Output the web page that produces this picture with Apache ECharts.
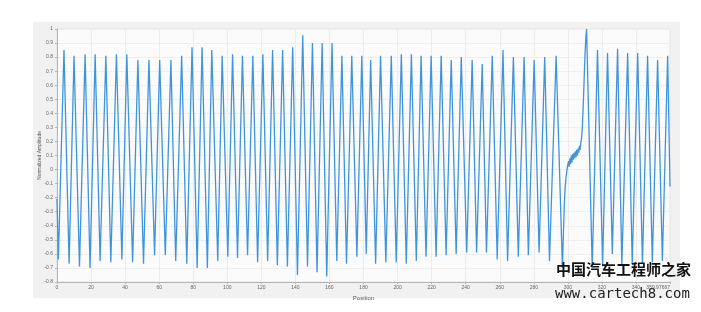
<!DOCTYPE html>
<html>
<head>
<meta charset="utf-8">
<script src="https://cdn.jsdelivr.net/npm/echarts@6/dist/echarts.min.js"></script>
<style>
html,body{margin:0;padding:0;background:#fff;}
#chart{width:701px;height:312px;}
</style>
</head>
<body>
<div id="chart"></div>
<script>
// Position values (x)
const positions = [
  0, 0.8, 4.1, 7.1, 10.0, 13.2, 16.5, 19.4, 22.4, 25.3, 28.7, 31.6, 34.9, 38.1, 41.0, 44.4, 47.5, 50.8, 54.0, 57.3,
  60.3, 63.6, 66.9, 69.7, 73.2, 76.2, 79.3, 82.3, 85.2, 88.3, 90.9, 94.4, 97.0, 100.3, 103.1, 106.0, 108.9, 111.9, 115.0, 117.8,
  120.9, 123.7, 126.6, 129.4, 132.5, 135.3, 138.4, 141.2, 144.3, 147.1, 150.0, 152.7, 155.7, 158.4, 161.5, 164.3, 167.3, 170.0, 173.1, 176.1,
  179.0, 181.6, 184.2, 187.1, 190.0, 193.1, 196.3, 199.2, 202.2, 205.1, 208.1, 211.0, 213.8, 216.7, 219.7, 222.6, 225.6, 228.5, 231.5, 234.4,
  237.4, 240.6, 243.8, 246.4, 249.7, 252.2, 255.6, 258.5, 261.9, 264.6, 268.0, 270.9, 274.3, 276.8, 280.2, 283.1, 286.4, 289.2, 293.1, 296.8,
  297.4, 297.9, 298.4, 298.9, 299.4, 299.9, 300.4, 300.8, 301.2, 301.6, 302.0, 302.4, 302.8, 303.2, 303.6, 304.0, 304.4, 304.8, 305.2, 305.6,
  306.0, 306.4, 306.8, 307.2, 307.6, 308.0, 308.5, 309.0, 309.5, 310.0, 310.6, 311.0,
  314.3, 317.4, 320.4, 323.3, 326.1, 329.2, 331.7, 335.1, 337.8, 341.0, 343.8, 346.8, 349.6, 352.7, 355.5, 358.6, 359.97667
];
// Normalized amplitude values
const amplitudes = [
  -0.21, -0.64, 0.85, -0.67, 0.81, -0.69, 0.82, -0.70, 0.82, -0.65, 0.81, -0.66, 0.82, -0.64, 0.82, -0.66, 0.78, -0.67, 0.78, -0.61,
  0.78, -0.61, 0.78, -0.65, 0.81, -0.67, 0.87, -0.70, 0.87, -0.70, 0.85, -0.65, 0.81, -0.62, 0.82, -0.63, 0.81, -0.61, 0.81, -0.66,
  0.82, -0.65, 0.85, -0.68, 0.85, -0.69, 0.87, -0.75, 0.955, -0.69, 0.90, -0.73, 0.90, -0.76, 0.90, -0.65, 0.81, -0.67, 0.81, -0.62,
  0.81, -0.60, 0.78, -0.67, 0.81, -0.66, 0.81, -0.66, 0.82, -0.67, 0.82, -0.65, 0.81, -0.62, 0.81, -0.62, 0.81, -0.61, 0.78, -0.60,
  0.80, -0.59, 0.78, -0.59, 0.75, -0.59, 0.81, -0.64, 0.85, -0.65, 0.80, -0.62, 0.80, -0.61, 0.78, -0.59, 0.80, -0.65, 0.81, -0.70,
  -0.45, -0.25, -0.13, -0.06, -0.01, 0.03, 0.06, 0.02, 0.08, 0.04, 0.10, 0.05, 0.11, 0.07, 0.12, 0.08, 0.13, 0.09, 0.14, 0.10,
  0.15, 0.12, 0.17, 0.14, 0.19, 0.22, 0.30, 0.45, 0.62, 0.80, 0.95, 1.0,
  -0.70, 0.85, -0.68, 0.83, -0.60, 0.86, -0.68, 0.83, -0.67, 0.83, -0.67, 0.81, -0.66, 0.78, -0.65, 0.81, -0.12
];
const xTitle = 'Position';
const yTitle = 'Normalized Amplitude';
const watermarkCn = '中国汽车工程师之家';
const watermarkUrl = 'www.cartech8.com';

const seriesData = positions.map((p, i) => [p, amplitudes[i]]);

const chart = echarts.init(document.getElementById('chart'), null, {renderer: 'canvas'});
chart.setOption({
  animation: false,
  backgroundColor: '#ffffff',
  graphic: [
    {type: 'rect', z: -10, silent: true, shape: {x: 33, y: 22, width: 647, height: 276}, style: {fill: '#f1f1f1'}},
    {type: 'text', z: 100, left: 556, top: 262, style: {text: watermarkCn, font: 'bold 15px "Noto Sans CJK SC"', fill: '#111'}},
    {type: 'text', z: 100, left: 555, top: 287, style: {text: watermarkUrl, font: '14px "DejaVu Sans Mono"', fill: '#222'}}
  ],
  grid: {
    left: 57, right: 31, top: 29, bottom: 30,
    show: true, backgroundColor: '#fbfbfb', borderColor: '#e2e2e2', borderWidth: 1
  },
  xAxis: {
    type: 'value', min: 0, max: 359.97667, interval: 20,
    name: xTitle, nameLocation: 'middle', nameGap: 13, nameMoveOverlap: false,
    nameTextStyle: {fontSize: 6, color: '#555', fontFamily: 'Liberation Sans'},
    axisLine: {show: true, onZero: false, lineStyle: {color: '#b5b5b5', width: 1}},
    axisTick: {show: true, length: 2, lineStyle: {color: '#b5b5b5'}},
    axisLabel: {fontSize: 5, color: '#666', margin: 3, fontFamily: 'Liberation Sans', showMaxLabel: true, alignMaxLabel: 'right'},
    splitLine: {show: true, lineStyle: {color: '#ececec', width: 1}}
  },
  yAxis: {
    type: 'value', min: -0.8, max: 1, interval: 0.1,
    name: yTitle, nameLocation: 'middle', nameGap: 15, nameRotate: 90, nameMoveOverlap: false,
    nameTextStyle: {fontSize: 5, color: '#555', fontFamily: 'Liberation Sans'},
    axisLine: {show: true, lineStyle: {color: '#b5b5b5', width: 1}},
    axisTick: {show: true, length: 2, lineStyle: {color: '#b5b5b5'}},
    axisLabel: {fontSize: 5, color: '#666', margin: 4, fontFamily: 'Liberation Sans'},
    splitLine: {show: true, lineStyle: {color: '#efefef', width: 1}}
  },
  series: [{
    type: 'line', data: seriesData, showSymbol: false, smooth: false,
    lineStyle: {color: '#4094dc', width: 1.3}, clip: true
  }]
});
</script>
</body>
</html>
